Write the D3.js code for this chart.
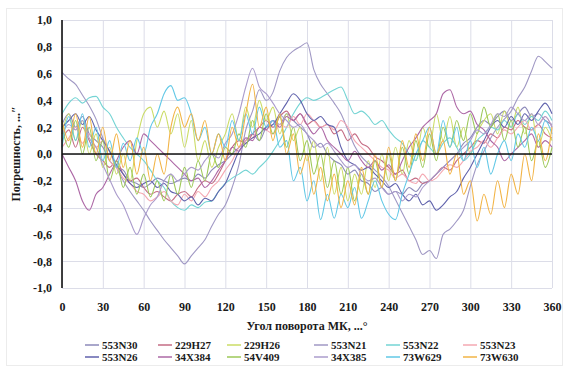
<!DOCTYPE html>
<html>
<head>
<meta charset="utf-8">
<script src="https://cdn.jsdelivr.net/npm/d3@7"></script>
<style>
  html, body { margin: 0; padding: 0; background: #fff; }
  svg { display: block; }
  text { font-family: "Liberation Serif", "Times New Roman", serif; font-weight: bold; fill: #1a1a1a; }
</style>
</head>
<body>
<svg id="chart" width="564" height="366"></svg>
<script>
// Rotation angle of the unit, degrees (sampled every 5°)
const angles = d3.range(0, 361, 5);

const xTicks = [0, 30, 60, 90, 120, 150, 180, 210, 240, 270, 300, 330, 360];
const yTicks = [-1.0, -0.8, -0.6, -0.4, -0.2, 0.0, 0.2, 0.4, 0.6, 0.8, 1.0];

const seriesNames = ["553N30", "229H27", "229H26", "553N21", "553N22", "553N23",
                     "553N26", "34X384", "54V409", "34X385", "73W629", "73W630"];
const seriesColors = ["#8d8aba", "#c46c84", "#cbdc66", "#a098c4", "#74d4d4", "#f4a8b2",
                      "#6062ac", "#ad68a6", "#9cc858", "#ab9ccc", "#62c8e6", "#f2b446"];

// Error values, arc seconds
const s553N30 = [0.22,0.30,0.20,0.28,0.15,0.10,0.05,-0.05,-0.10,-0.12,-0.20,-0.22,-0.25,-0.22,-0.18,-0.20,-0.22,-0.20,-0.18,-0.20,-0.15,-0.18,-0.12,-0.08,-0.05,0.00,0.05,0.10,0.15,0.10,0.20,0.25,0.22,0.30,0.25,0.20,0.15,0.05,0.08,0.00,-0.05,-0.08,-0.15,-0.12,-0.20,-0.22,-0.28,-0.25,-0.30,-0.28,-0.30,-0.25,-0.28,-0.22,-0.20,-0.15,-0.10,-0.05,0.00,0.08,0.12,0.20,0.25,0.22,0.28,0.32,0.25,0.30,0.35,0.28,0.30,0.25,0.22];
const s229H27 = [0.10,0.18,0.05,0.20,0.10,0.00,-0.05,-0.10,-0.05,-0.15,-0.20,-0.18,-0.25,-0.30,-0.28,-0.32,-0.35,-0.30,-0.28,-0.32,-0.25,-0.20,-0.22,-0.15,-0.05,0.05,0.10,0.08,0.15,0.20,0.25,0.20,0.28,0.32,0.25,0.30,0.22,0.25,0.20,0.22,0.15,0.18,0.10,0.15,0.08,0.05,-0.02,-0.05,-0.10,-0.15,-0.12,-0.20,-0.18,-0.22,-0.20,-0.15,-0.10,-0.12,-0.05,0.00,0.05,0.10,0.08,0.15,0.12,0.20,0.18,0.25,0.20,0.18,0.22,0.15,0.12];
const s229H26 = [0.15,0.30,0.10,0.25,0.00,0.15,-0.10,0.05,-0.15,0.00,-0.20,0.10,0.30,0.35,0.20,0.32,0.15,0.30,0.05,0.25,-0.05,0.10,-0.10,0.05,0.15,0.30,0.10,0.35,0.20,0.40,0.25,0.35,0.15,0.30,0.10,0.20,-0.05,0.10,-0.20,0.05,-0.30,-0.10,-0.35,-0.15,-0.30,-0.05,-0.25,0.00,-0.20,0.05,-0.15,0.10,-0.05,0.20,0.05,0.30,0.10,0.28,0.05,0.20,0.00,0.15,0.25,0.30,0.15,0.32,0.20,0.35,0.15,0.30,0.05,0.20,0.10];
const s553N21 = [0.61,0.56,0.52,0.44,0.36,0.26,0.12,0.02,-0.10,-0.20,-0.28,-0.35,-0.42,-0.50,-0.57,-0.64,-0.70,-0.76,-0.82,-0.76,-0.70,-0.64,-0.54,-0.45,-0.38,-0.25,-0.08,0.18,0.32,0.48,0.40,0.46,0.62,0.72,0.77,0.80,0.83,0.63,0.52,0.45,0.38,0.30,0.18,0.06,-0.02,-0.07,-0.12,-0.17,-0.24,-0.34,-0.44,-0.54,-0.64,-0.75,-0.72,-0.78,-0.60,-0.56,-0.50,-0.42,-0.24,-0.08,0.02,0.12,0.20,0.26,0.32,0.42,0.50,0.62,0.73,0.69,0.64];
const s553N22 = [0.30,0.38,0.42,0.38,0.42,0.43,0.35,0.30,0.20,0.12,0.05,0.00,-0.05,-0.12,-0.20,-0.25,-0.35,-0.40,-0.42,-0.38,-0.40,-0.36,-0.35,-0.28,-0.22,-0.18,-0.15,-0.12,-0.15,-0.10,-0.05,0.02,0.10,0.20,0.30,0.38,0.42,0.40,0.42,0.45,0.48,0.50,0.40,0.30,0.32,0.28,0.22,0.25,0.18,0.12,0.08,0.00,-0.05,0.10,0.05,0.00,0.08,0.12,0.05,-0.05,0.00,0.10,0.15,0.20,0.18,0.25,0.20,0.30,0.22,0.28,0.25,0.32,0.25];
const s553N23 = [0.05,0.12,0.20,0.08,0.15,0.05,0.10,-0.05,-0.10,-0.18,-0.22,-0.28,-0.30,-0.35,-0.32,-0.28,-0.35,-0.38,-0.30,-0.35,-0.28,-0.32,-0.25,-0.20,-0.12,-0.05,0.05,0.10,0.12,0.20,0.18,0.15,0.22,0.20,0.28,0.22,0.30,0.25,0.20,0.22,0.18,0.25,0.20,0.10,0.05,0.00,-0.05,-0.10,-0.12,-0.18,-0.15,-0.20,-0.22,-0.15,-0.20,-0.18,-0.12,-0.08,-0.10,-0.05,0.02,0.05,0.10,0.05,0.12,0.18,0.15,0.20,0.25,0.18,0.22,0.28,0.20];
const s553N26 = [0.20,0.25,0.30,0.22,0.28,0.18,0.10,0.02,-0.08,-0.15,-0.22,-0.25,-0.22,-0.20,-0.25,-0.22,-0.28,-0.30,-0.35,-0.32,-0.38,-0.33,-0.35,-0.28,-0.22,-0.10,0.02,0.08,0.12,0.15,0.20,0.22,0.30,0.38,0.45,0.40,0.30,0.25,0.28,0.22,0.20,0.05,-0.05,-0.08,-0.12,-0.10,-0.15,-0.20,-0.25,-0.22,-0.30,-0.35,-0.30,-0.38,-0.35,-0.42,-0.38,-0.32,-0.28,-0.18,-0.10,0.00,0.10,0.20,0.25,0.20,0.28,0.22,0.30,0.25,0.32,0.38,0.30];
const s34X384 = [0.00,-0.10,-0.20,-0.35,-0.42,-0.30,-0.25,-0.15,-0.05,0.05,0.10,0.00,0.15,0.10,0.05,0.00,-0.05,-0.10,-0.15,-0.20,-0.18,-0.25,-0.20,-0.12,-0.05,0.05,0.02,0.12,0.10,0.20,0.18,0.25,0.20,0.28,0.25,0.30,0.22,0.15,0.20,0.10,0.05,0.00,-0.05,0.02,-0.05,-0.10,-0.05,-0.12,-0.08,-0.15,-0.05,0.05,0.12,0.20,0.25,0.30,0.45,0.48,0.35,0.30,0.32,0.22,0.18,0.10,0.05,-0.05,0.00,0.05,0.10,0.15,0.05,0.10,0.05];
const s54V409 = [0.20,0.05,0.25,0.00,0.20,-0.05,0.10,-0.20,-0.05,-0.25,-0.10,-0.30,-0.15,-0.32,-0.20,-0.35,-0.15,-0.30,-0.10,-0.25,-0.05,-0.20,0.00,-0.10,0.05,0.00,0.15,0.05,0.25,0.10,0.30,0.15,0.28,0.05,0.20,-0.05,0.10,-0.15,0.00,-0.25,-0.05,-0.30,-0.10,-0.35,-0.15,-0.30,-0.05,-0.25,0.00,-0.20,0.05,-0.15,0.10,-0.10,0.15,-0.05,0.20,0.05,0.25,0.10,0.30,0.15,0.35,0.20,0.30,0.10,0.25,0.05,0.20,-0.05,0.10,-0.10,0.05];
const s34X385 = [0.15,0.22,0.18,0.25,0.12,0.05,-0.08,-0.19,-0.30,-0.38,-0.50,-0.60,-0.48,-0.38,-0.32,-0.20,-0.15,-0.20,-0.15,-0.10,-0.12,-0.05,0.00,-0.03,0.08,0.15,0.30,0.50,0.64,0.50,0.45,0.38,0.30,0.25,0.20,0.22,0.15,0.10,0.05,0.08,0.02,-0.05,-0.10,-0.08,-0.15,-0.20,-0.18,-0.25,-0.30,-0.28,-0.35,-0.30,-0.32,-0.25,-0.20,-0.15,-0.10,-0.05,0.00,0.05,0.10,0.18,0.15,0.22,0.30,0.28,0.35,0.30,0.25,0.30,0.22,0.28,0.20];
const s73W629 = [0.05,0.28,0.10,0.30,0.05,0.20,-0.05,0.10,-0.10,0.08,-0.05,0.12,0.00,0.20,0.30,0.45,0.51,0.40,0.42,0.30,0.10,0.20,0.00,0.15,0.05,0.25,0.10,0.30,0.15,0.35,0.20,0.25,0.05,0.10,-0.20,-0.10,-0.35,-0.20,-0.49,-0.30,-0.48,-0.30,-0.40,-0.25,-0.48,-0.35,-0.20,-0.35,-0.45,-0.49,-0.30,-0.15,0.00,0.10,0.20,0.00,0.25,0.05,0.20,-0.05,0.10,-0.10,0.05,-0.15,0.00,0.10,-0.05,0.15,0.05,0.20,0.10,0.25,0.15];
const s73W630 = [0.25,0.10,0.30,0.05,0.28,0.00,0.20,-0.05,0.15,-0.10,0.10,-0.15,0.05,-0.20,0.00,-0.15,0.20,0.35,0.20,0.30,0.10,0.25,0.00,0.15,-0.05,0.20,0.05,0.30,0.52,0.20,0.35,0.10,0.30,0.00,0.15,-0.15,0.00,-0.30,-0.10,-0.35,-0.15,-0.40,-0.20,-0.38,-0.10,-0.30,0.00,-0.25,0.05,-0.20,0.10,-0.10,0.15,-0.05,0.20,0.00,0.10,-0.15,0.00,-0.30,-0.20,-0.50,-0.30,-0.45,-0.20,-0.40,-0.15,-0.30,0.00,-0.20,0.15,-0.05,0.20];

const seriesValues = [s553N30, s229H27, s229H26, s553N21, s553N22, s553N23,
                      s553N26, s34X384, s54V409, s34X385, s73W629, s73W630];

const svg = d3.select("#chart");
const W = 564, H = 366;
const plot = { left: 62, right: 552, top: 20, bottom: 288 };

// light chart-area frame
svg.append("rect")
  .attr("x", 6.5).attr("y", 8.5).attr("width", W - 8).attr("height", H - 9)
  .attr("fill", "none").attr("stroke", "#ececec");

const x = d3.scaleLinear().domain([0, 360]).range([plot.left, plot.right]);
const y = d3.scaleLinear().domain([-1, 1]).range([plot.bottom, plot.top]);

const fmt = v => d3.format(".1f")(v).replace(".", ",").replace("−", "-");

// gridlines
const grid = svg.append("g");
grid.selectAll("line.v").data(xTicks).join("line")
  .attr("x1", d => x(d) + 0.5).attr("x2", d => x(d) + 0.5)
  .attr("y1", plot.top).attr("y2", plot.bottom)
  .attr("stroke", "#dcdde8").attr("stroke-width", 1);
grid.selectAll("line.h").data(yTicks).join("line")
  .attr("x1", plot.left).attr("x2", plot.right)
  .attr("y1", d => Math.round(y(d)) + 0.5).attr("y2", d => Math.round(y(d)) + 0.5)
  .attr("stroke", "#dcdde8").attr("stroke-width", 1);

// series lines
const line = d3.line()
  .x((d, i) => x(angles[i]))
  .y(d => y(d))
  .curve(d3.curveMonotoneX);

svg.append("g").selectAll("path").data(seriesValues).join("path")
  .attr("d", d => line(d))
  .attr("fill", "none")
  .attr("stroke", (d, i) => seriesColors[i])
  .attr("stroke-width", 1.1)
  .attr("stroke-linejoin", "round");

// zero line and vertical axis
svg.append("line")
  .attr("x1", plot.left).attr("x2", plot.right)
  .attr("y1", y(0)).attr("y2", y(0))
  .attr("stroke", "#111").attr("stroke-width", 1.6);
svg.append("line")
  .attr("x1", plot.left).attr("x2", plot.left)
  .attr("y1", plot.top).attr("y2", plot.bottom)
  .attr("stroke", "#111").attr("stroke-width", 1.6);

// y tick labels
const yAxis = d3.axisLeft(y).tickValues(yTicks).tickFormat(fmt).tickSize(0).tickPadding(10);
const gy = svg.append("g").attr("transform", `translate(${plot.left},0)`).call(yAxis);
gy.select(".domain").remove();
gy.selectAll("text").attr("font-size", 12).style("font-family", "'Liberation Serif', serif").style("font-weight", "bold").attr("fill", "#1a1a1a");

// x tick labels
const xAxis = d3.axisBottom(x).tickValues(xTicks).tickFormat(d => d).tickSize(0).tickPadding(14);
const gx = svg.append("g").attr("transform", `translate(0,${plot.bottom})`).call(xAxis);
gx.select(".domain").remove();
gx.selectAll("text").attr("font-size", 12).style("font-family", "'Liberation Serif', serif").style("font-weight", "bold").attr("fill", "#1a1a1a");

// axis titles
svg.append("text")
  .attr("x", 307).attr("y", 330)
  .attr("text-anchor", "middle").attr("font-size", 12)
  .text("Угол поворота МК, ...°");
svg.append("text")
  .attr("transform", `translate(20,${(plot.top + plot.bottom) / 2}) rotate(-90)`)
  .attr("text-anchor", "middle").attr("font-size", 12)
  .text("Погрешность, ...″");

// legend: two rows of six
const legendCols = [102, 175, 244, 331, 403, 480];
const legendRows = [345, 357];
const legend = svg.append("g").selectAll("g").data(seriesNames).join("g")
  .attr("transform", (d, i) => `translate(${legendCols[i % 6]},${legendRows[Math.floor(i / 6)]})`);
legend.append("line")
  .attr("x1", -17).attr("x2", -3).attr("y1", 0).attr("y2", 0)
  .attr("stroke", (d, i) => seriesColors[i]).attr("stroke-width", 1.5);
legend.append("text")
  .attr("x", 0).attr("y", 4)
  .attr("font-size", 11)
  .text(d => d);
</script>
</body>
</html>
